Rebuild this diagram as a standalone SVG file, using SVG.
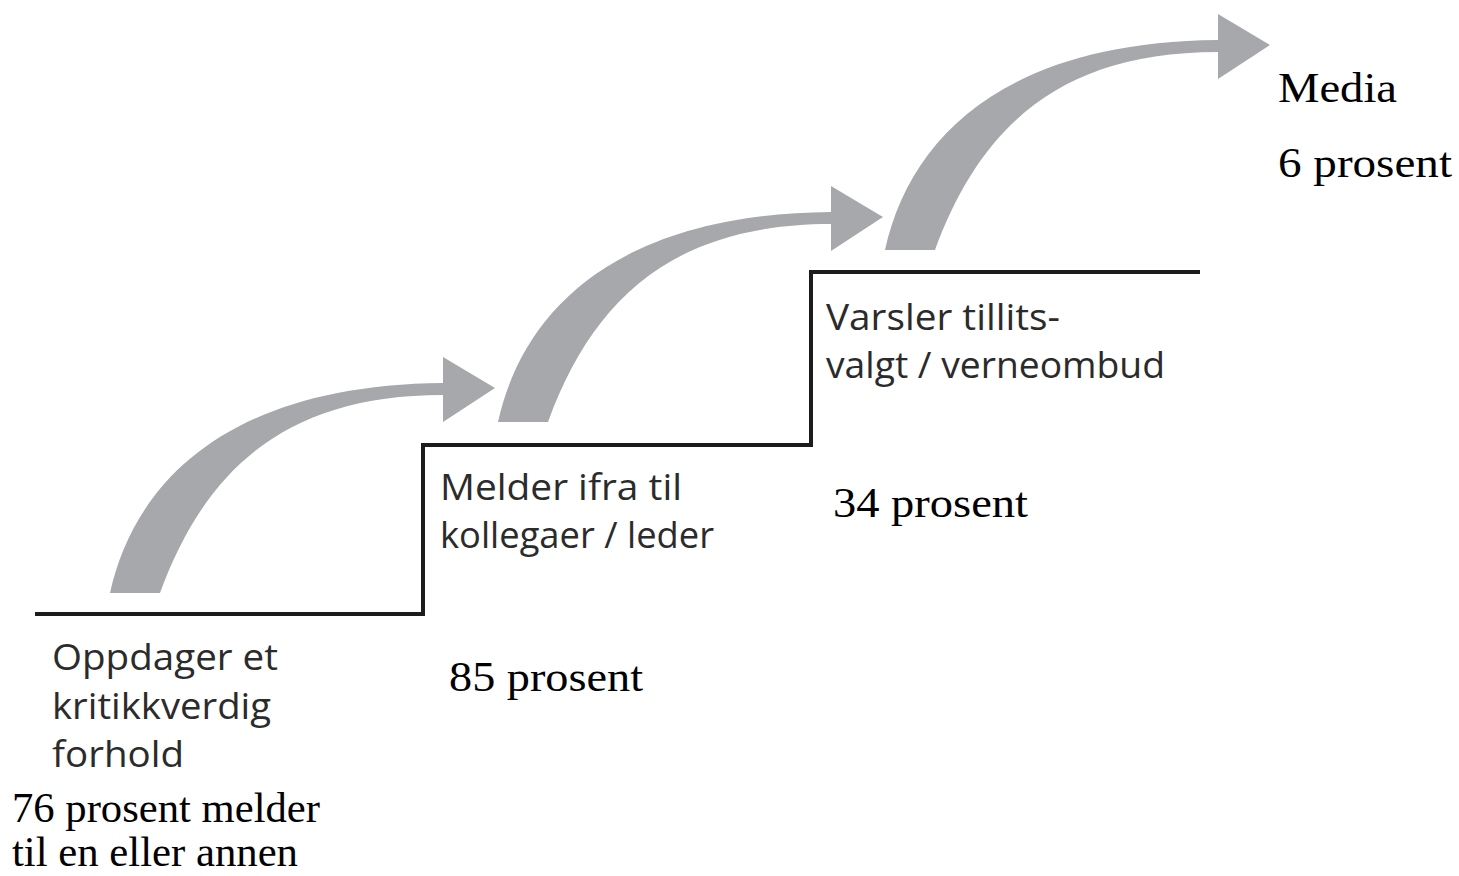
<svg xmlns="http://www.w3.org/2000/svg" width="1459" height="876" viewBox="0 0 1459 876">
<style>
.step{font-family:"Open Sans","Liberation Sans",sans-serif;font-size:37px;fill:#2b2b2b}
.pct{font-family:"Liberation Serif","DejaVu Serif",serif;font-size:42px;fill:#000}
.arrow{fill:#a7a8ab}
</style>
<defs>
<path id="arw" class="arrow" d="M110,593 C135,480 230,385 443,383 L443,357 L495,388 L443,422 L443,395 C285,395 205,470 160,593 Z"/>
</defs>
<rect width="1459" height="876" fill="#fff"/>
<g id="connectors">
<use href="#arw"/>
<use href="#arw" transform="translate(388,-171)"/>
<use href="#arw" transform="translate(775,-343)"/>
</g>
<g id="stairs">
<path d="M35,614 H423 V445 H811 V272 H1200" fill="none" stroke="#1c1c1c" stroke-width="4"/>
</g>
<g id="step1">
<text class="step" x="52" y="670" textLength="226" lengthAdjust="spacingAndGlyphs">Oppdager et</text>
<text class="step" x="52" y="719" textLength="219" lengthAdjust="spacingAndGlyphs">kritikkverdig</text>
<text class="step" x="52" y="767" textLength="132" lengthAdjust="spacingAndGlyphs">forhold</text>
<text class="pct" x="12" y="822" textLength="308" lengthAdjust="spacingAndGlyphs">76 prosent melder</text>
<text class="pct" x="12" y="866" textLength="286" lengthAdjust="spacingAndGlyphs">til en eller annen</text>
</g>
<g id="step2">
<text class="step" x="440" y="500" textLength="242" lengthAdjust="spacingAndGlyphs">Melder ifra til</text>
<text class="step" x="440" y="548" textLength="274" lengthAdjust="spacingAndGlyphs">kollegaer / leder</text>
<text class="pct" x="449" y="691" textLength="194" lengthAdjust="spacingAndGlyphs">85 prosent</text>
</g>
<g id="step3">
<text class="step" x="826" y="330" textLength="234" lengthAdjust="spacingAndGlyphs">Varsler tillits-</text>
<text class="step" x="826" y="378" textLength="339" lengthAdjust="spacingAndGlyphs">valgt / verneombud</text>
<text class="pct" x="833" y="517" textLength="195" lengthAdjust="spacingAndGlyphs">34 prosent</text>
</g>
<g id="step4">
<text class="pct" x="1278" y="102" textLength="119" lengthAdjust="spacingAndGlyphs">Media</text>
<text class="pct" x="1278" y="177" textLength="174" lengthAdjust="spacingAndGlyphs">6 prosent</text>
</g>
</svg>
